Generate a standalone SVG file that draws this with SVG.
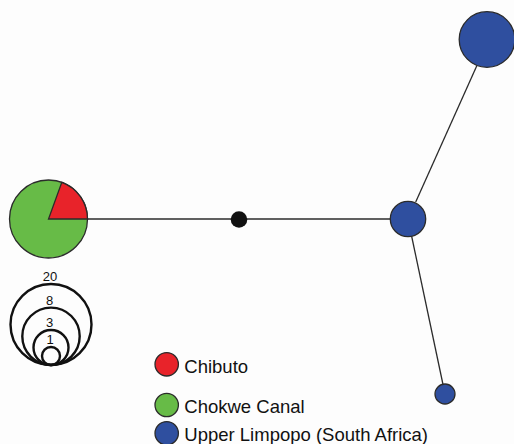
<svg xmlns="http://www.w3.org/2000/svg" width="514" height="444" viewBox="0 0 514 444">
<style>
.node{stroke:#2b2b2b;stroke-width:1.3}
.red{fill:#e8232a}
.green{fill:#67bb47}
.blue{fill:#2f4f9f}
.edge{stroke:#2b2b2b;stroke-width:1.3;fill:none}
.scale{fill:none;stroke:#111;stroke-width:2.4}
.num{font-family:"Liberation Sans",Arial,sans-serif;font-size:13px;fill:#111;text-anchor:middle}
.lbl{font-family:"Liberation Sans",Arial,sans-serif;font-size:18.5px;fill:#111}
</style>
<rect width="514" height="444" fill="#fdfdfd"/>
<g id="connectors">
<line class="edge" x1="87.5" y1="219" x2="390.5" y2="219"/>
<line class="edge" x1="415.7" y1="202" x2="476.7" y2="66"/>
<line class="edge" x1="411.7" y1="236.5" x2="443" y2="384.5"/>
</g>
<g id="node-pie">
<circle class="node green" cx="48.5" cy="219" r="39"/>
<path class="node red" d="M48.5,219 L87.5,219 A39,39 0 0 0 61.8,182.4 Z"/>
</g>
<g id="node-missing">
<circle cx="239" cy="219.5" r="8.3" fill="#111"/>
</g>
<g id="node-blue-mid">
<circle class="node blue" cx="408" cy="219" r="17.7"/>
</g>
<g id="node-blue-large">
<circle class="node blue" cx="487" cy="39.5" r="27.8"/>
</g>
<g id="node-blue-small">
<circle class="node blue" cx="445" cy="394" r="10"/>
</g>
<g id="size-scale">
<circle class="scale" cx="51" cy="324.5" r="40.5"/>
<circle class="scale" cx="51" cy="336.3" r="28.7"/>
<circle class="scale" cx="51" cy="347.5" r="17.5"/>
<circle class="scale" cx="51" cy="356" r="9"/>
<text class="num" x="50" y="281">20</text>
<text class="num" x="49.5" y="305">8</text>
<text class="num" x="49.5" y="327">3</text>
<text class="num" x="50" y="344">1</text>
</g>
<g id="legend">
<circle class="node red" cx="166.7" cy="364.3" r="11.7"/>
<text class="lbl" x="184.3" y="373.3">Chibuto</text>
<circle class="node green" cx="166.7" cy="405" r="11.7"/>
<text class="lbl" x="184.3" y="413.3">Chokwe Canal</text>
<circle class="node blue" cx="166.7" cy="433.3" r="11.7"/>
<text class="lbl" x="184.3" y="441.3">Upper Limpopo (South Africa)</text>
</g>
</svg>
